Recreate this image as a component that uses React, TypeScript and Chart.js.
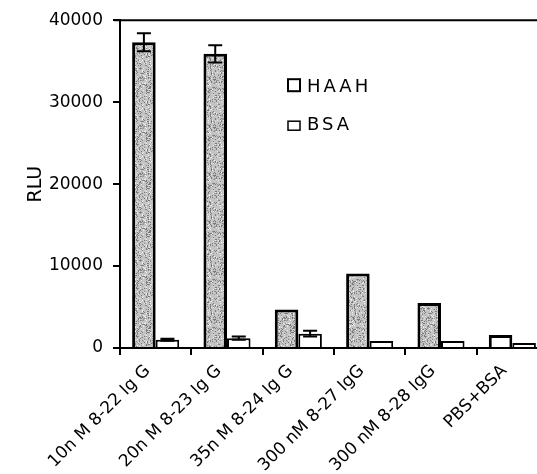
import React, { useEffect, useRef } from "react";
import { Chart, registerables } from "chart.js";

Chart.register(...registerables);

const categories = [
  "10n M 8-22 Ig G",
  "20n M 8-23 Ig G",
  "35n M 8-24 Ig G",
  "300 nM 8-27 IgG",
  "300 nM 8-28 IgG",
  "PBS+BSA",
];
const haahValues = [37300, 35900, 4700, 9100, 5500, 1600];
const haahErrors = [1100, 1050, 0, 0, 0, 0];
const bsaValues = [1000, 1200, 1750, 850, 850, 600];
const bsaErrors = [120, 200, 350, 0, 0, 0];
const yTicks = [0, 10000, 20000, 30000, 40000];
const seriesNames = ["HAAH", "BSA"];
const yTitle = "RLU";

const FONT = "'DejaVu Sans', 'Liberation Sans', Arial, sans-serif";

function makeSpeckle(): CanvasPattern | string {
  const c = document.createElement("canvas");
  c.width = 48;
  c.height = 48;
  const ctx = c.getContext("2d");
  if (!ctx) return "#b4b4b4";
  ctx.fillStyle = "#c4c4c4";
  ctx.fillRect(0, 0, 48, 48);
  let s = 12345;
  const next = () => {
    s = (s * 1103515245 + 12345) & 0x7fffffff;
    return s / 0x7fffffff;
  };
  for (let i = 0; i < 900; i++) {
    const x = Math.floor(next() * 48);
    const y = Math.floor(next() * 48);
    const r = next();
    ctx.fillStyle = r < 0.45 ? "#7a7a7a" : r < 0.7 ? "#9a9a9a" : "#ececec";
    ctx.fillRect(x, y, 1, 1);
  }
  return ctx.createPattern(c, "repeat") || "#b4b4b4";
}

export default function App() {
  const ref = useRef<HTMLCanvasElement | null>(null);

  useEffect(() => {
    if (!ref.current) return;
    const speckle = makeSpeckle();
    const errs = [haahErrors, bsaErrors];

    const framePlugin = {
      id: "frame",
      afterDatasetsDraw(chart: any) {
        const { ctx, chartArea, scales } = chart;
        ctx.save();
        ctx.strokeStyle = "#000";
        ctx.lineWidth = 2;
        // top frame line
        ctx.beginPath();
        ctx.moveTo(chartArea.left - 6, chartArea.top);
        ctx.lineTo(chartArea.right, chartArea.top);
        ctx.stroke();
        // error bars
        chart.data.datasets.forEach((ds: any, di: number) => {
          const meta = chart.getDatasetMeta(di);
          meta.data.forEach((el: any, i: number) => {
            const e = errs[di][i];
            if (!e) return;
            const v = ds.data[i];
            const yt = scales.y.getPixelForValue(v + e);
            const yb = scales.y.getPixelForValue(v - e);
            const cap = 7;
            ctx.beginPath();
            ctx.moveTo(el.x, yt);
            ctx.lineTo(el.x, yb);
            ctx.moveTo(el.x - cap, yt);
            ctx.lineTo(el.x + cap, yt);
            ctx.moveTo(el.x - cap, yb);
            ctx.lineTo(el.x + cap, yb);
            ctx.stroke();
          });
        });
        // legend
        const lx = chartArea.left + 167;
        const ly = chartArea.top + 58;
        ctx.lineWidth = 2;
        ctx.fillStyle = "#fff";
        ctx.strokeRect(lx + 1, ly + 1, 12, 12);
        ctx.lineWidth = 1.5;
        ctx.strokeRect(lx + 1, ly + 43, 12, 9);
        ctx.fillStyle = "#000";
        ctx.font = `18px ${FONT}`;
        ctx.textBaseline = "alphabetic";
        ctx.textAlign = "left";
        try {
          (ctx as any).letterSpacing = "3px";
        } catch (e) {}
        ctx.fillText(seriesNames[0], lx + 20, ly + 14);
        ctx.fillText(seriesNames[1], lx + 20, ly + 52);
        try {
          (ctx as any).letterSpacing = "0px";
        } catch (e) {}
        ctx.restore();
      },
    };

    const chart = new Chart(ref.current, {
      type: "bar",
      data: {
        labels: categories,
        datasets: [
          {
            label: seriesNames[0],
            data: haahValues,
            backgroundColor: haahValues.map((_, i) => (i < 5 ? speckle : "#ffffff")) as any,
            borderColor: "#000",
            borderWidth: 3,
            categoryPercentage: 0.66,
            barPercentage: 1,
          },
          {
            label: seriesNames[1],
            data: bsaValues,
            backgroundColor: "#ffffff",
            borderColor: "#000",
            borderWidth: 2,
            categoryPercentage: 0.66,
            barPercentage: 1,
          },
        ],
      },
      options: {
        responsive: false,
        animation: false,
        layout: { padding: { top: 19, right: 2, left: 25, bottom: 0 } },
        plugins: {
          legend: { display: false },
          tooltip: { enabled: false },
        },
        scales: {
          x: {
            offset: true,
            grid: {
              offset: true,
              drawOnChartArea: false,
              drawTicks: true,
              tickLength: 7,
              color: "#000",
              lineWidth: 2,
            },
            border: { color: "#000", width: 2 },
            ticks: {
              color: "#000",
              font: { family: FONT, size: 17 },
              minRotation: 45,
              maxRotation: 45,
              autoSkip: false,
              padding: 6,
              labelOffset: -8,
            },
            afterFit(scale: any) {
              scale.height = 126;
            },
          },
          y: {
            min: 0,
            max: 40000,
            afterBuildTicks(scale: any) {
              scale.ticks = yTicks.map((v) => ({ value: v }));
            },
            grid: {
              drawOnChartArea: false,
              drawTicks: true,
              tickLength: 7,
              color: "#000",
              lineWidth: 2,
            },
            border: { color: "#000", width: 2 },
            ticks: {
              color: "#000",
              font: { family: FONT, size: 17 },
              padding: 10,
              callback: (v: any) => String(v),
            },
            title: {
              display: true,
              text: yTitle,
              color: "#000",
              font: { family: FONT, size: 19 },
              padding: { top: 0, bottom: 0 },
            },
            afterFit(scale: any) {
              scale.width = 95;
            },
          },
        },
      },
      plugins: [framePlugin],
    });
    return () => chart.destroy();
  }, []);

  return (
    <div
      style={{
        position: "fixed",
        left: 0,
        top: 0,
        width: 537,
        height: 474,
        overflow: "hidden",
        background: "#fff",
      }}
    >
      <canvas ref={ref} width={550} height={474} style={{ display: "block" }} />
    </div>
  );
}
